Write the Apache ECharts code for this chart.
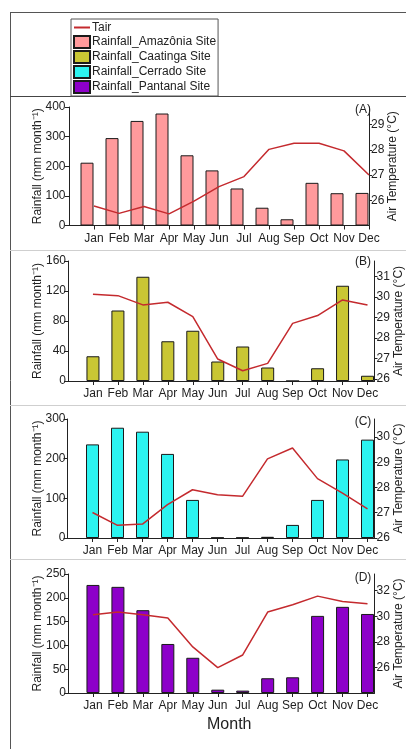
<!DOCTYPE html>
<html>
<head>
<meta charset="utf-8">
<script src="https://cdn.jsdelivr.net/npm/echarts@6/dist/echarts.min.js"></script>
<style>
html,body{margin:0;padding:0;background:#fff;}
#chart{width:406px;height:749px;}
</style>
</head>
<body>
<div id="chart"></div>
<script>
// ---- data ----
const months = ['Jan','Feb','Mar','Apr','May','Jun','Jul','Aug','Sep','Oct','Nov','Dec'];
const seriesNames = ['Rainfall_Amazônia Site','Rainfall_Caatinga Site','Rainfall_Cerrado Site','Rainfall_Pantanal Site'];
const rainAmazonia = [212, 295, 353, 378, 237, 186, 125, 60, 21, 144, 109, 110];
const tairAmazonia = [25.77, 25.48, 25.75, 25.46, 25.97, 26.54, 26.94, 28.02, 28.26, 28.26, 27.96, 27.0];
const rainCaatinga = [33, 94, 139, 53, 67, 26, 46, 18, 0, 17, 127, 7];
const tairCaatinga = [30.13, 30.06, 29.61, 29.74, 29.04, 26.97, 26.40, 26.76, 28.71, 29.09, 29.85, 29.61];
const rainCerrado = [236, 278, 268, 212, 96, 1, 1, 3, 33, 96, 198, 248];
const tairCerrado = [27.01, 26.5, 26.55, 27.32, 27.91, 27.71, 27.65, 29.13, 29.56, 28.35, 27.78, 27.15];
const rainPantanal = [227, 223, 174, 103, 74, 7, 5, 31, 33, 162, 181, 166];
const tairPantanal = [30.12, 30.33, 30.12, 29.86, 27.6, 25.98, 26.97, 30.33, 30.9, 31.57, 31.15, 30.98];
const panelLabels = ['(A)','(B)','(C)','(D)'];
const rainTicksA = [0, 100, 200, 300, 400];
const rainTicksB = [0, 40, 80, 120, 160];
const rainTicksC = [0, 100, 200, 300];
const rainTicksD = [0, 50, 100, 150, 200, 250];
const tempTicksA = [26, 27, 28, 29];
const tempTicksB = [26, 27, 28, 29, 30, 31];
const tempTicksC = [26, 27, 28, 29, 30];
const tempTicksD = [26, 28, 30, 32];

// ---- layout / style ----
const FONT = 'Liberation Sans, Arial, sans-serif';
const barColors = ['#ff9a9c', '#c9c634', '#2cf3f0', '#8d00c9'];
const lineColor = '#c42a2e';
const axisColor = '#222';
const monthPos = months.map((m, i) => i + 1);

const panels = [
  {rain: rainAmazonia, tair: tairAmazonia, rainTicks: rainTicksA, tempTicks: tempTicksA,
   grid: {left: 67.5, right: 37, top: 107, height: 118.5}, xmin: -0.06, xmax: 12, barShift: 0.28,
   tmin: 25, tmax: 29.7, labelY: 110},
  {rain: rainCaatinga, tair: tairCaatinga, rainTicks: rainTicksB, tempTicks: tempTicksB,
   grid: {left: 68, right: 31.5, top: 261, height: 120}, xmin: 0, xmax: 12.28, barShift: 0,
   tmin: 25.9, tmax: 31.75, labelY: 262},
  {rain: rainCerrado, tair: tairCerrado, rainTicks: rainTicksC, tempTicks: tempTicksC,
   grid: {left: 67.5, right: 31.5, top: 419, height: 119}, xmin: 0, xmax: 12.28, barShift: 0,
   tmin: 26, tmax: 30.71, labelY: 422},
  {rain: rainPantanal, tair: tairPantanal, rainTicks: rainTicksD, tempTicks: tempTicksD,
   grid: {left: 68, right: 31.5, top: 574, height: 119}, xmin: 0, xmax: 12.28, barShift: 0,
   tmin: 24, tmax: 33.3, labelY: 578}
];

const grids = [], xAxes = [], yAxes = [], series = [], graphics = [];

panels.forEach((p, k) => {
  grids.push(Object.assign({outerBoundsMode: 'none', containLabel: false}, p.grid));
  const lineX = xAxes.length;
  xAxes.push({
    type: 'value', gridIndex: k, min: p.xmin, max: p.xmax,
    axisLine: {onZero: false, lineStyle: {color: axisColor, width: 1}},
    axisTick: {customValues: monthPos, length: 4, lineStyle: {color: axisColor}},
    axisLabel: {customValues: monthPos, formatter: v => months[v - 1] || '',
                fontSize: 12, color: axisColor, margin: 7, fontFamily: FONT},
    splitLine: {show: false},
    name: k === 3 ? 'Month' : '',
    nameLocation: 'middle', nameGap: 24, nameMoveOverlap: false,
    nameTextStyle: {fontSize: 16, color: axisColor, fontFamily: FONT, padding: [0, 0, 0, 16]}
  });
  let barX = lineX;
  if (p.barShift) {
    barX = xAxes.length;
    xAxes.push({type: 'value', gridIndex: k, show: false,
                min: p.xmin + p.barShift, max: p.xmax + p.barShift});
  }
  const rainMax = p.rainTicks[p.rainTicks.length - 1];
  const leftY = yAxes.length;
  yAxes.push({
    type: 'value', gridIndex: k, min: 0, max: rainMax, position: 'left',
    axisLine: {show: true, lineStyle: {color: axisColor}},
    axisTick: {show: true, customValues: p.rainTicks, length: 4, lineStyle: {color: axisColor}},
    axisLabel: {customValues: p.rainTicks, fontSize: 12, color: axisColor, margin: 2, fontFamily: FONT},
    splitLine: {show: false},
    name: 'Rainfall (mm month⁻¹)', nameLocation: 'middle', nameGap: 24, nameMoveOverlap: false,
    nameTextStyle: {fontSize: 12, color: axisColor, fontFamily: FONT}
  });
  const rightY = yAxes.length;
  yAxes.push({
    type: 'value', gridIndex: k, min: p.tmin, max: p.tmax, position: 'right',
    axisLine: {show: true, lineStyle: {color: axisColor}},
    axisTick: {show: true, customValues: p.tempTicks, length: 3, lineStyle: {color: axisColor}},
    axisLabel: {customValues: p.tempTicks, fontSize: 12, color: axisColor, margin: 2, fontFamily: FONT},
    splitLine: {show: false},
    name: 'Air Temperature (°C)', nameLocation: 'middle', nameGap: 18, nameRotate: 90, nameMoveOverlap: false,
    nameTextStyle: {fontSize: 12, color: axisColor, fontFamily: FONT}
  });
  series.push({
    type: 'bar', name: seriesNames[k], xAxisIndex: barX, yAxisIndex: leftY,
    barWidth: 13,
    itemStyle: {color: barColors[k], borderColor: '#1a1a1a', borderWidth: 1},
    data: p.rain.map((v, i) => [monthPos[i], v])
  });
  series.push({
    type: 'line', name: 'Tair', xAxisIndex: lineX, yAxisIndex: rightY,
    symbol: 'none', showSymbol: false, z: 5,
    lineStyle: {color: lineColor, width: 1.5}, itemStyle: {color: lineColor},
    data: p.tair.map((v, i) => [monthPos[i], v])
  });
  graphics.push({type: 'text', x: 363, y: p.labelY,
    style: {text: panelLabels[k], fill: axisColor, font: '12px ' + FONT, align: 'center', verticalAlign: 'middle'}});
});

// frame lines
graphics.push({type: 'line', shape: {x1: 10, y1: 12.5, x2: 406, y2: 12.5}, style: {stroke: '#555', lineWidth: 1}});
graphics.push({type: 'line', shape: {x1: 10.5, y1: 12, x2: 10.5, y2: 749}, style: {stroke: '#555', lineWidth: 1}});
graphics.push({type: 'line', shape: {x1: 10, y1: 96.5, x2: 406, y2: 96.5}, style: {stroke: '#444', lineWidth: 1}});
[250.5, 405.5, 559.5].forEach(y => {
  graphics.push({type: 'line', shape: {x1: 10, y1: y, x2: 406, y2: y}, style: {stroke: '#cfcfcf', lineWidth: 1}});
});

const option = {
  animation: false,
  textStyle: {fontFamily: FONT},
  legend: {
    orient: 'vertical', left: 71, top: 19,
    borderColor: '#555', borderWidth: 1, padding: [2, 2, 2, 2],
    itemWidth: 16, itemHeight: 12, itemGap: 1,
    textStyle: {fontSize: 12, lineHeight: 13, color: axisColor, fontFamily: FONT, padding: [0, 0, 0, -3]},
    data: [{name: 'Tair', itemStyle: {opacity: 0}}].concat(seriesNames.map(n => ({name: n, icon: 'rect'})))
  },
  grid: grids,
  xAxis: xAxes,
  yAxis: yAxes,
  series: series,
  graphic: graphics
};

const chart = echarts.init(document.getElementById('chart'), null, {renderer: 'canvas'});
chart.setOption(option);
</script>
</body>
</html>
